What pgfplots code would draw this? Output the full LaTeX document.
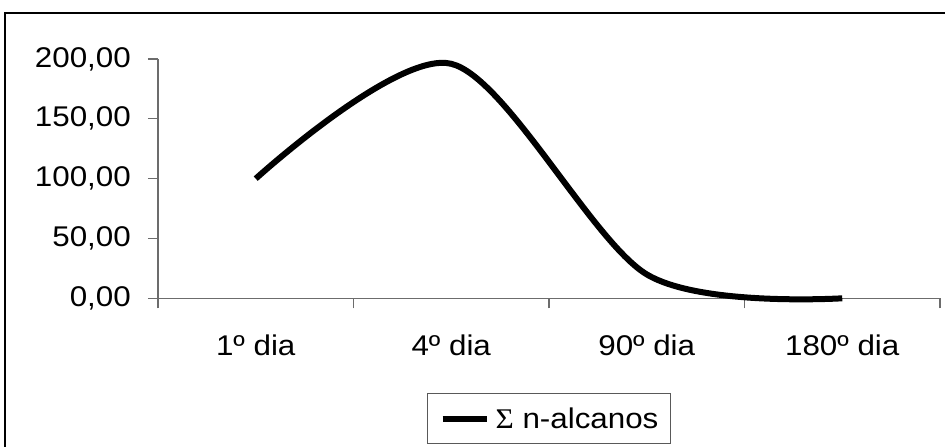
\documentclass[border=0pt]{standalone}
\usepackage{pgfplots}
\pgfplotsset{compat=1.18}
\usepackage{fontspec}
\setmainfont{Liberation Sans}[FakeStretch=1.1]
\newfontfamily\sigmafont{Liberation Serif}[FakeStretch=1.1]
\newcommand\chartfont{\fontsize{28.5bp}{32bp}\selectfont}

\begin{document}
\begin{tikzpicture}
\useasboundingbox (0bp,0bp) rectangle (945bp,447bp);
% chart area frame
\draw[line width=2bp] (5bp,-10bp) -- (5bp,434bp) -- (960bp,434bp);
% categories sit at 0.5, 1.5, ... so that the data origin is the plot corner
\begin{axis}[
  at={(158bp,148.7bp)}, anchor=origin,
  scale only axis,
  width=782bp, height=239.3bp,
  xmin=0, xmax=4,
  ymin=0, ymax=200,
  clip=false,
  axis x line*=bottom, axis y line*=left,
  axis line style={gray!85!black, line width=1.2bp},
  tick style={gray!85!black, line width=1.2bp},
  tick align=outside,
  major tick length=10bp,
  minor tick length=10bp,
  xtick={0.5,1.5,2.5,3.5},
  xticklabels={1º dia, 4º dia, 90º dia, 180º dia},
  major x tick style={draw=none},
  minor xtick={0,1,2,3,4},
  ytick={0,50,100,150,200},
  /pgf/number format/assume math mode=true,
  yticklabel style={
    /pgf/number format/fixed,
    /pgf/number format/fixed zerofill,
    /pgf/number format/precision=2,
    /pgf/number format/use comma,
    inner sep=0bp, xshift=-17bp},
  every tick label/.append style={font=\chartfont, text=black},
  xticklabel style={anchor=base, inner sep=0bp, yshift=-47bp},
  legend style={
    at={(0.5,-0.3957)}, anchor=north,
    draw=gray!70!black, line width=1bp,
    font=\chartfont,
    inner xsep=12bp, inner ysep=14bp,
    nodes={inner sep=0bp},
    column sep=6bp,
  },
  legend image code/.code={\draw[line width=6bp, black] (0bp,0bp) -- (44bp,0bp);},
]
\addplot[black, line width=6bp, smooth, tension=0.5]
  coordinates {(0.5,100) (1.5,196) (2.5,20) (3.5,0)};
\addlegendentry{{\sigmafont Σ} n-alcanos}
\end{axis}
\end{tikzpicture}
\end{document}
